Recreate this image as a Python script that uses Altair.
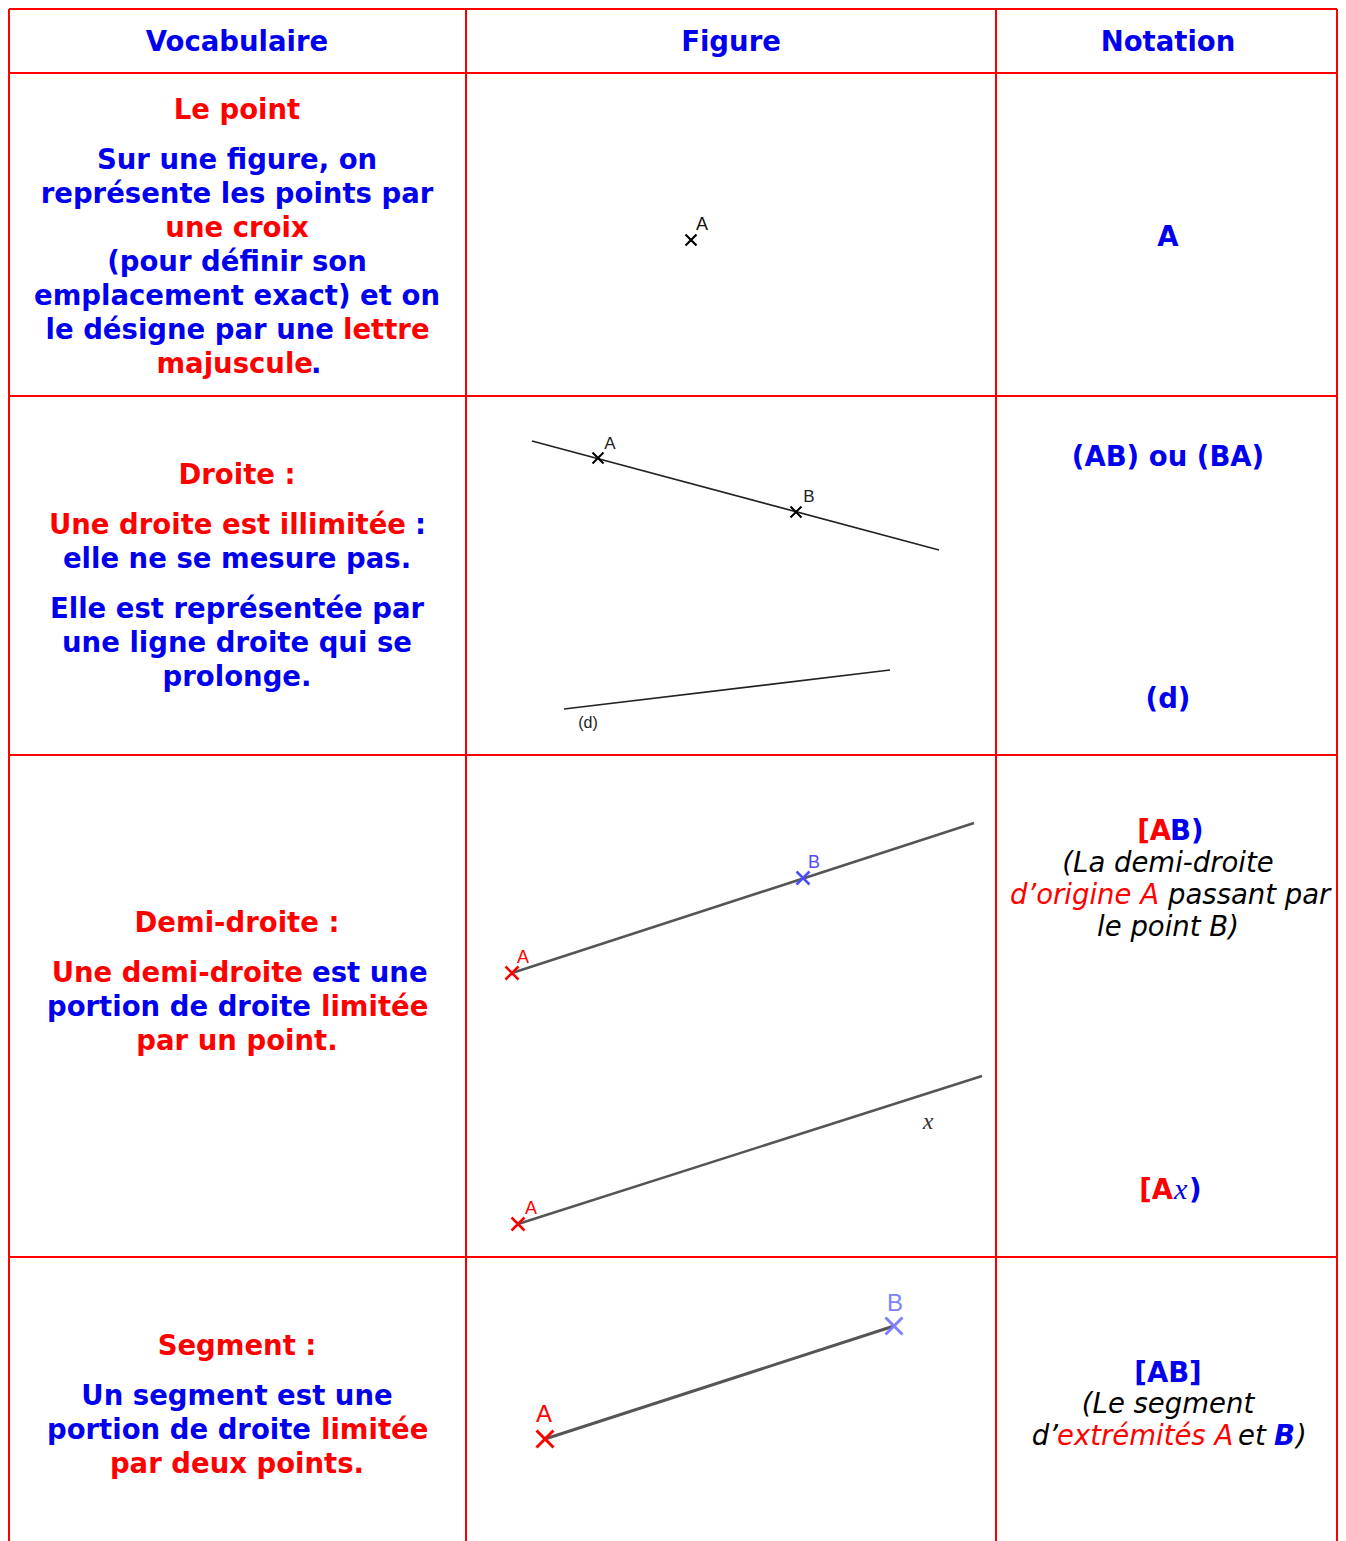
import altair as alt
import pandas as pd

RED = "#ff0000"
BLUE = "#0000ee"
BLACK = "#000000"
FONT = "DejaVu Sans"
LABEL_FONT = "Liberation Sans"
MATH_FONT = "Liberation Serif"

# ---------------- table content ----------------
HEADERS = ["Vocabulaire", "Figure", "Notation"]

# left column: each row is a list of lines; a line is a list of (text, colour); None = paragraph gap
VOCAB = [
    [[("Le point", RED)],
     None,
     [("Sur une figure, on", BLUE)],
     [("représente les points par", BLUE)],
     [("une croix", RED)],
     [("(pour définir son", BLUE)],
     [("emplacement exact) et on", BLUE)],
     [("le désigne par une", BLUE), ("lettre", RED)],
     [("majuscule", RED), (".", BLUE)]],
    [[("Droite :", RED)],
     None,
     [("Une droite est illimitée", RED), (":", BLUE)],
     [("elle ne se mesure pas.", BLUE)],
     None,
     [("Elle est représentée par", BLUE)],
     [("une ligne droite qui se", BLUE)],
     [("prolonge.", BLUE)]],
    [[("Demi-droite :", RED)],
     None,
     [("Une demi-droite", RED), ("est une", BLUE)],
     [("portion de droite", BLUE), ("limitée", RED)],
     [("par un point.", RED)]],
    [[("Segment :", RED)],
     None,
     [("Un segment est une", BLUE)],
     [("portion de droite", BLUE), ("limitée", RED)],
     [("par deux points.", RED)]],
]

# right column: lines of (text, colour, style)
NOTATION = [
    [("A", BLUE, "bold")],
    [("(AB) ou (BA)", BLUE, "bold")],
    [("(d)", BLUE, "bold")],
    [("[A", RED, "bold"), ("B)", BLUE, "bold")],
    [("(La demi-droite", BLACK, "italic")],
    [("d’origine A", RED, "italic"), ("passant par", BLACK, "italic")],
    [("le point B)", BLACK, "italic")],
    [("[A", RED, "bold"), ("x", BLUE, "math"), (")", BLUE, "bold")],
    [("[AB]", BLUE, "bold")],
    [("(Le segment", BLACK, "italic")],
    [("d’", BLACK, "italic"), ("extrémités A", RED, "italic"), ("et", BLACK, "italic"),
     ("B", BLUE, "bolditalic"), (")", BLACK, "italic")],
]

# figure column: point names, their colours, labels
FIG_POINTS = ["A", "A", "B", "A", "B", "A", "A", "B"]
FIG_POINT_COLORS = [BLACK, BLACK, BLACK, RED, "#4d4dff", RED, RED, "#8080ff"]
FIG_LABELS = ["A", "A", "B", "(d)", "A", "B", "A", "A", "B"]
FIG_LABEL_COLORS = ["#111111", "#222222", "#222222", "#222222", RED, "#4d4dff", RED, RED, "#8080ff"]
MATH_LABEL = "x"

# ---------------- layout (pixel geometry) ----------------
COL_X = [9, 466, 996, 1337]
ROW_Y = [9, 73, 396, 755, 1257]
BOTTOM = 1545
HEADER_BASE = 51
FS = 27.5
LINE_H = 34
PARA_GAP = 16
VOCAB_TOP = [119, 484, 932, 1355]
VOCAB_SPLITS = [(334, 343), (313, 311), (406, 415), (303, 312), (311, 321), (311, 321)]
NOTATION_BASE = [246, 466, 708, 840, 872, 904, 936, 1199, 1382, 1413, 1445]
NOTATION_ANCHORS = [None, None, None,
                    [("right", 1171), ("left", 1170)],
                    None,
                    [("right", 1159), ("left", 1168)],
                    None,
                    [("right", 1173), ("left", 1174), ("left", 1189)],
                    None, None,
                    [("right", 1058), ("left", 1057), ("left", 1238), ("left", 1274), ("left", 1296)]]
CENTERS = [237, 731, 1168]
POINT_POS = [(691, 240), (598, 458), (796, 512), (512, 973), (803, 878), (518, 1224), (545, 1439), (894, 1326)]
POINT_HALF = [5.5, 5.5, 5.5, 6.5, 6.5, 6.5, 8.5, 8.5]
POINT_SW = [2.2, 2, 2, 2.5, 2.5, 2.5, 3, 3]
LABEL_POS = [(702, 230), (610, 449), (809, 502), (588, 728), (523, 963), (814, 868), (531, 1214), (544, 1422), (895, 1311)]
LABEL_SIZE = [18, 17, 17, 16, 18, 18, 18, 24, 24]
MATH_POS = (928, 1129)
FIG_LINES = [((532, 441), (939, 550), "#222222", 1.7),
             ((564, 709), (890, 670), "#222222", 1.7),
             ((512, 973), (974, 823), "#555555", 2.5),
             ((518, 1224), (982, 1076), "#555555", 2.5),
             ((545, 1439), (894, 1326), "#555555", 3.0)]

W, H = 1330, 1525
X = alt.X("x:Q", scale=alt.Scale(domain=[8, 8 + W], nice=False), axis=None)
Y = alt.Y("y:Q", scale=alt.Scale(domain=[8, 8 + H], nice=False, reverse=True), axis=None)

# ---------------- build tables ----------------
grid = []
for cx in COL_X:
    grid.append(dict(x=cx, y=ROW_Y[0], x2=cx, y2=BOTTOM, color="#ff0000", w=2))
for ry in ROW_Y:
    grid.append(dict(x=COL_X[0], y=ry, x2=COL_X[-1], y2=ry, color="#ff0000", w=2))
for (a, b, c, w) in FIG_LINES:
    grid.append(dict(x=a[0], y=a[1], x2=b[0], y2=b[1], color=c, w=w))
rules_df = pd.DataFrame(grid)

texts = []  # text, x, y, color, size, style, align
for h, cx in zip(HEADERS, CENTERS):
    texts.append(dict(text=h, x=cx, y=HEADER_BASE, color=BLUE, size=FS, style="bold", align="center"))

split_i = 0
for row, top in zip(VOCAB, VOCAB_TOP):
    y = top
    first = True
    for line in row:
        if line is None:
            y += PARA_GAP
            continue
        if not first:
            y += LINE_H
        first = False
        if len(line) == 1:
            texts.append(dict(text=line[0][0], x=CENTERS[0], y=y, color=line[0][1], size=FS,
                              style="bold", align="center"))
        else:
            r_edge, l_edge = VOCAB_SPLITS[split_i]
            split_i += 1
            texts.append(dict(text=line[0][0], x=r_edge, y=y, color=line[0][1], size=FS,
                              style="bold", align="right"))
            texts.append(dict(text=line[1][0], x=l_edge, y=y, color=line[1][1], size=FS,
                              style="bold", align="left"))

for line, base, anch in zip(NOTATION, NOTATION_BASE, NOTATION_ANCHORS):
    if anch is None:
        t, c, s = line[0]
        texts.append(dict(text=t, x=CENTERS[2], y=base, color=c, size=FS, style=s, align="center"))
    else:
        for (t, c, s), (al, ax) in zip(line, anch):
            texts.append(dict(text=t, x=ax, y=base, color=c, size=30 if s == "math" else FS,
                              style=s, align=al))

for t, c, (lx, ly), sz in zip(FIG_LABELS, FIG_LABEL_COLORS, LABEL_POS, LABEL_SIZE):
    texts.append(dict(text=t, x=lx, y=ly, color=c, size=sz, style="label", align="center"))
texts.append(dict(text=MATH_LABEL, x=MATH_POS[0], y=MATH_POS[1], color="#333333", size=24,
                  style="math", align="center"))
text_df = pd.DataFrame(texts)

pts_df = pd.DataFrame(dict(
    name=FIG_POINTS, color=FIG_POINT_COLORS,
    x=[p[0] for p in POINT_POS], y=[p[1] for p in POINT_POS],
    size=[(2 * h) ** 2 for h in POINT_HALF], sw=POINT_SW))

# ---------------- chart ----------------
rules = alt.Chart(rules_df).mark_rule().encode(
    x=X, y=Y, x2="x2:Q", y2="y2:Q",
    color=alt.Color("color:N", scale=None),
    strokeWidth=alt.StrokeWidth("w:Q", scale=None))

points = alt.Chart(pts_df).mark_point(shape="M-1,-1L1,1M-1,1L1,-1", filled=False, opacity=1).encode(
    x=X, y=Y,
    color=alt.Color("color:N", scale=None),
    size=alt.Size("size:Q", scale=None),
    strokeWidth=alt.StrokeWidth("sw:Q", scale=None))

STYLES = {
    "bold": dict(font=FONT, fontWeight="bold", fontStyle="normal"),
    "italic": dict(font=FONT, fontWeight="normal", fontStyle="italic"),
    "bolditalic": dict(font=FONT, fontWeight="bold", fontStyle="italic"),
    "label": dict(font=LABEL_FONT, fontWeight="normal", fontStyle="normal"),
    "math": dict(font=MATH_FONT, fontWeight="normal", fontStyle="italic"),
}

layers = [rules, points]
for (st, al), sub in text_df.groupby(["style", "align"]):
    layers.append(
        alt.Chart(sub.reset_index(drop=True)).mark_text(baseline="alphabetic", align=al, **STYLES[st]).encode(
            x=X, y=Y, text="text:N",
            color=alt.Color("color:N", scale=None),
            size=alt.Size("size:Q", scale=None)))

chart = alt.layer(*layers).properties(width=W, height=H, padding=0, background="white").configure_view(stroke=None)

chart.save("out.html", embed_options={"renderer": "svg", "actions": False})
